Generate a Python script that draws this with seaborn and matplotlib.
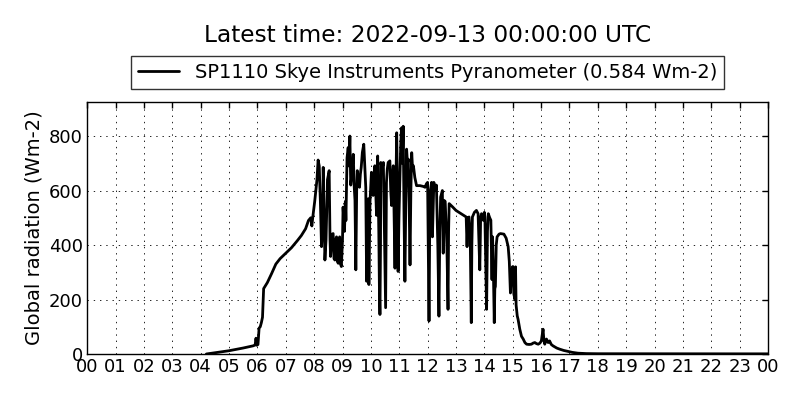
import numpy as np
import pandas as pd
import matplotlib
matplotlib.use("Agg")
import matplotlib.pyplot as plt
import seaborn as sns

# hours since 00 UTC
hours = [
    4.20, 4.60, 5.00, 5.50, 5.85, 5.92, 5.95, 5.98, 6.02, 6.06, 6.10, 6.14, 6.18, 6.22,
    6.35, 6.50, 6.65, 6.80, 7.00, 7.20, 7.40, 7.55, 7.70, 7.80, 7.88, 7.92, 7.95,
    8.02, 8.10, 8.14, 8.18, 8.22, 8.26, 8.30, 8.32, 8.36, 8.38, 8.42, 8.47, 8.53,
    8.56, 8.58, 8.63, 8.67, 8.70, 8.73, 8.76, 8.79, 8.82, 8.85, 8.88, 8.90, 8.93,
    8.96, 9.00, 9.02, 9.07, 9.10, 9.12, 9.16, 9.20, 9.23, 9.26, 9.29, 9.32, 9.36,
    9.38, 9.41, 9.44, 9.47, 9.50, 9.52, 9.56, 9.60, 9.63, 9.66, 9.70, 9.75, 9.78,
    9.82, 9.85, 9.88, 9.91, 9.93, 9.97, 10.02, 10.05, 10.08, 10.11, 10.14, 10.17,
    10.20, 10.24, 10.28, 10.30, 10.32, 10.34, 10.35, 10.40, 10.44, 10.47, 10.50,
    10.52, 10.54, 10.55, 10.58, 10.61, 10.67, 10.70, 10.73, 10.76, 10.79, 10.82,
    10.85, 10.88, 10.91, 10.94, 10.96, 10.99, 11.02, 11.05, 11.08, 11.11, 11.14,
    11.17, 11.20, 11.23, 11.26, 11.29, 11.32, 11.35, 11.38, 11.41, 11.44, 11.47,
    11.50, 11.55, 11.61, 11.73, 11.85, 11.91, 11.96, 12.00, 12.03, 12.05, 12.07,
    12.09, 12.14, 12.17, 12.22, 12.28, 12.31, 12.36, 12.40, 12.43, 12.46, 12.52,
    12.55, 12.58, 12.62, 12.68, 12.72, 12.74, 12.76, 12.88, 13.00, 13.18, 13.36,
    13.39, 13.42, 13.46, 13.50, 13.54, 13.56, 13.58, 13.65, 13.72, 13.78, 13.84,
    13.87, 13.90, 13.96, 14.00, 14.02, 14.08, 14.11, 14.14, 14.19, 14.23, 14.27,
    14.29, 14.32, 14.35, 14.37, 14.39, 14.42, 14.45, 14.52, 14.57, 14.69, 14.77,
    14.84, 14.88, 14.92, 14.95, 15.00, 15.04, 15.08, 15.10, 15.12, 15.16, 15.19,
    15.25, 15.31, 15.37, 15.43, 15.49, 15.58, 15.66, 15.72, 15.78, 15.84, 15.90,
    15.96, 16.01, 16.07, 16.10, 16.13, 16.19, 16.25, 16.30, 16.36, 16.42, 16.55,
    16.65, 16.80, 16.98, 17.10, 17.30, 17.60, 18.00, 19.00, 20.00, 21.00, 22.00,
    23.00, 24.00,
]

# global radiation (Wm-2)
radiation = [
    0, 6, 12, 22, 30, 33, 58, 32, 35, 95, 100, 115, 135, 240,
    262, 295, 330, 350, 370, 390, 415, 435, 460, 490, 500, 470, 500,
    560, 640, 712, 690, 560, 394, 480, 685, 470, 345, 420, 640, 673,
    420, 358, 440, 442, 350, 345, 420, 430, 340, 333, 420, 430, 330,
    321, 420, 539, 450, 560, 490, 720, 758, 690, 800, 620, 648, 700,
    733, 620, 564, 309, 600, 673, 640, 612, 660, 685, 740, 770, 700,
    612, 267, 400, 570, 255, 560, 667, 620, 582, 660, 691, 600,
    509, 727, 448, 250, 145, 400, 703, 680, 703, 500, 300,
    170, 450, 630, 680, 703, 709, 600, 545, 650, 691, 500,
    315, 600, 812, 600, 303, 500, 630, 760, 830, 700, 836,
    500, 267, 550, 752, 700, 715, 550, 327, 600, 739, 680,
    691, 648, 618, 618, 615, 612, 625, 630, 300, 121, 400,
    594, 630, 430, 630, 600, 620, 400, 139, 450, 576, 600,
    370, 564, 560, 400, 164, 450, 552, 540, 527, 515, 503,
    394, 500, 503, 450, 115, 400, 503, 520, 527, 515, 309,
    500, 515, 491, 520, 503, 164, 450, 515, 500, 491, 273,
    430, 300, 115, 240, 248, 400, 430, 440, 442, 440, 425,
    394, 340, 224, 300, 321, 220, 200, 320, 180, 140, 127,
    91, 65, 55, 42, 36, 35, 36, 40, 42, 38, 36,
    40, 48, 91, 50, 36, 55, 42, 48, 35, 30, 22,
    18, 13, 9, 6, 3, 1.5, 1, 1, 0.8, 0.7, 0.6,
    0.6, 0.584,
]

hour_ticks = list(range(0, 25))
hour_labels = ["%02d" % (h % 24) for h in hour_ticks]
y_ticks = [0, 200, 400, 600, 800]

df = pd.DataFrame({"hour": hours, "radiation": radiation})

sns.set_style("white")
plt.rcParams['font.family'] = ['DejaVu Sans']
plt.rcParams['text.color'] = 'black'
plt.rcParams['axes.labelcolor'] = 'black'
plt.rcParams['xtick.color'] = 'black'
plt.rcParams['ytick.color'] = 'black'
plt.rcParams['xtick.direction'] = 'in'
plt.rcParams['ytick.direction'] = 'in'
plt.rcParams['xtick.top'] = True
plt.rcParams['ytick.right'] = True
plt.rcParams['lines.scale_dashes'] = False

fig = plt.figure(figsize=(8, 4), dpi=100)
ax = fig.add_axes([0.109, 0.115, 0.851, 0.63])

sns.lineplot(data=df, x="hour", y="radiation", ax=ax, color="black", lw=2,
             label="SP1110 Skye Instruments Pyranometer (0.584 Wm-2)")

ax.set_xlim(0, 24)
ax.set_ylim(0, 925)
ax.set_xticks(hour_ticks)
ax.set_xticklabels(hour_labels)
ax.set_yticks(y_ticks)
ax.tick_params(axis='both', which='major', labelsize=13, length=4, width=1,
               color='black', labelcolor='black', pad=3, top=True, right=True)
ax.set_xlabel("")
ax.set_ylabel("Global radiation (Wm-2)", fontsize=14, color='black')
ax.grid(True, color='black', linestyle=(0, (1, 3.5)), linewidth=0.6)
for sp in ax.spines.values():
    sp.set_color('black')
    sp.set_linewidth(1)
    sp.set_visible(True)

leg = ax.legend(loc='center', bbox_to_anchor=(0.5, 1.117), fontsize=14,
                frameon=True, fancybox=False, handlelength=2.1,
                borderpad=0.35, borderaxespad=0)
leg.get_frame().set_edgecolor('black')
leg.get_frame().set_linewidth(1)
for t in leg.get_texts():
    t.set_color('black')

fig.text(0.534, 0.912, "Latest time: 2022-09-13 00:00:00 UTC", fontsize=16.75,
         ha='center', va='center', color='black')

fig.savefig("out.png", dpi=100)
